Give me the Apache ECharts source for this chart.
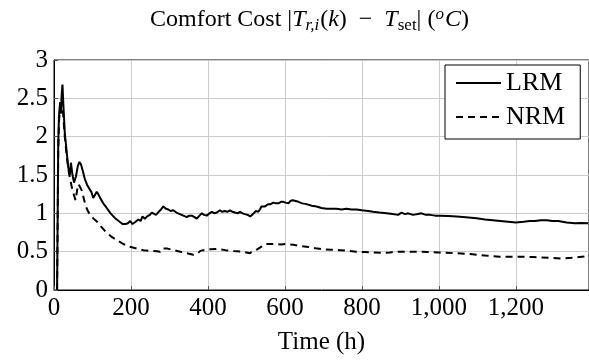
<!DOCTYPE html>
<html>
<head>
<meta charset="utf-8">
<script src="https://cdn.jsdelivr.net/npm/echarts@6/dist/echarts.min.js"></script>
<style>
  html, body { margin: 0; padding: 0; background: #fff; }
  #chart { width: 589px; height: 362px; }
</style>
</head>
<body>
<div id="chart"></div>
<script>
// LRM curve (time in h, comfort cost in °C)
const lrmHours = [8, 11, 13, 16, 18, 20, 22, 24, 28, 33, 37, 41, 44, 48, 52, 57, 62, 66, 70, 75, 80, 86, 92, 97, 102, 106, 111, 115, 120, 128, 137, 147, 158, 168, 178, 186, 192, 198, 204, 212, 219, 225, 230, 236, 242, 249, 254, 258, 265, 272, 278, 284, 291, 297, 303, 310, 318, 327, 336, 345, 351, 358, 365, 371, 378, 384, 390, 397, 404, 410, 417, 423, 431, 437, 444, 450, 457, 464, 470, 477, 483, 490, 496, 503, 510, 514, 519, 524, 531, 535, 539, 544, 548, 552, 557, 563, 570, 576, 583, 590, 596, 602, 609, 614, 620, 628, 635, 645, 656, 670, 682, 695, 708, 720, 734, 747, 760, 773, 786, 800, 816, 829, 845, 864, 880, 894, 903, 912, 920, 933, 945, 955, 966, 977, 990, 1003, 1025, 1046, 1070, 1098, 1120, 1140, 1160, 1180, 1200, 1220, 1236, 1250, 1265, 1280, 1295, 1310, 1332, 1353, 1370, 1388];
const lrmValues = [0, 1.9, 2.28, 2.45, 2.3, 2.55, 2.68, 2.45, 2.05, 1.8, 1.6, 1.5, 1.66, 1.5, 1.4, 1.48, 1.62, 1.67, 1.64, 1.55, 1.45, 1.37, 1.32, 1.28, 1.2, 1.22, 1.28, 1.25, 1.2, 1.13, 1.07, 1.0, 0.94, 0.9, 0.86, 0.86, 0.87, 0.9, 0.86, 0.89, 0.92, 0.9, 0.96, 0.93, 0.96, 0.98, 1.01, 1.03, 0.98, 1.02, 1.05, 1.09, 1.06, 1.05, 1.03, 1.04, 1.01, 0.99, 0.97, 0.95, 0.97, 0.97, 0.95, 0.93, 0.97, 1.0, 0.98, 0.97, 1.0, 1.02, 1.0, 1.01, 1.04, 1.02, 1.03, 1.02, 1.04, 1.02, 1.01, 1.0, 1.02, 1.0, 0.99, 0.98, 0.96, 0.95, 1.0, 1.03, 1.02, 1.05, 1.09, 1.1, 1.09, 1.1, 1.12, 1.12, 1.14, 1.13, 1.13, 1.15, 1.15, 1.14, 1.13, 1.16, 1.17, 1.16, 1.15, 1.13, 1.12, 1.1, 1.09, 1.07, 1.06, 1.06, 1.06, 1.05, 1.06, 1.05, 1.05, 1.04, 1.03, 1.02, 1.01, 1.0, 0.99, 0.98, 1.01, 0.99, 1.0, 0.98, 0.99, 1.0, 0.98, 0.98, 0.97, 0.97, 0.965, 0.96, 0.95, 0.935, 0.92, 0.91, 0.9, 0.89, 0.88, 0.89, 0.9, 0.9, 0.91, 0.91, 0.9, 0.9, 0.88, 0.87, 0.875, 0.87];

// NRM curve
const nrmHours = [8, 11, 13, 17, 20, 23, 28, 33, 38, 43, 48, 53, 56, 60, 64, 68, 72, 77, 82, 88, 95, 103, 112, 122, 134, 148, 163, 180, 197, 215, 232, 250, 267, 276, 281, 286, 295, 310, 328, 345, 362, 372, 380, 388, 405, 423, 445, 466, 490, 509, 517, 528, 539, 548, 560, 574, 590, 604, 622, 640, 656, 680, 700, 720, 743, 765, 786, 808, 829, 855, 873, 890, 899, 920, 942, 970, 998, 1040, 1081, 1120, 1158, 1200, 1245, 1285, 1323, 1345, 1366, 1388];
const nrmValues = [0, 1.8, 2.2, 2.45, 2.5, 2.35, 2.0, 1.75, 1.55, 1.42, 1.3, 1.22, 1.17, 1.3, 1.38, 1.39, 1.3, 1.2, 1.1, 1.03, 0.97, 0.93, 0.89, 0.83, 0.76, 0.7, 0.65, 0.6, 0.565, 0.54, 0.52, 0.51, 0.505, 0.5, 0.54, 0.555, 0.54, 0.52, 0.5, 0.48, 0.46, 0.47, 0.51, 0.52, 0.53, 0.535, 0.52, 0.51, 0.5, 0.48, 0.51, 0.53, 0.565, 0.6, 0.6, 0.6, 0.595, 0.6, 0.59, 0.575, 0.565, 0.545, 0.53, 0.525, 0.52, 0.51, 0.5, 0.495, 0.49, 0.485, 0.49, 0.5, 0.5, 0.5, 0.5, 0.495, 0.49, 0.48, 0.47, 0.45, 0.435, 0.435, 0.43, 0.42, 0.41, 0.42, 0.43, 0.44];

const xMin = 0, xMax = 1390, xStep = 200;
const yMin = 0, yMax = 3, yStep = 0.5;

const zip = (xs, ys) => xs.map((x, i) => [x, ys[i]]);
const serif = '"Liberation Serif", "DejaVu Serif", serif';

const chart = echarts.init(document.getElementById('chart'));

// title pieces (rich text, sub/superscripts shifted with padding)
const tn = { fontFamily: serif, fontSize: 24, lineHeight: 28, color: '#000' };
const ti = { ...tn, fontStyle: 'italic' };
const small = { fontFamily: serif, fontSize: 17, lineHeight: 17, color: '#000' };

const option = {
    backgroundColor: '#fff',
    animation: false,
    textStyle: { fontFamily: serif, color: '#000' },
    title: {
        left: 150,
        top: 6,
        padding: 0,
        text: '{n|Comfort Cost |}{i|T}{sub|r,i}{n|(}{i|k}{n|)\u2002−\u2002}{i|T}{subr|set}{n|| (}{sup|o}{i|C}{n|)}',
        textStyle: {
            fontFamily: serif,
            fontWeight: 'normal',
            fontSize: 24,
            color: '#000',
            rich: {
                n: tn,
                i: ti,
                sub: { ...small, fontStyle: 'italic', padding: [11, 1, 0, 0] },
                subr: { ...small, padding: [11, 0, 0, 0] },
                sup: { ...small, fontStyle: 'italic', padding: [0, 1, 10, 0] }
            }
        }
    },
    legend: {
        orient: 'vertical',
        left: 445,
        top: 65,
        padding: [5, 15, 9, 10],
        itemGap: 8,
        itemWidth: 45,
        itemHeight: 14,
        borderColor: '#000',
        borderWidth: 1,
        borderRadius: 0,
        backgroundColor: '#fff',
        itemStyle: { opacity: 0 },
        textStyle: { fontFamily: serif, fontSize: 26, color: '#000', lineHeight: 26 },
        data: ['LRM', 'NRM']
    },
    grid: {
        show: true,
        left: 54,
        top: 60,
        width: 535,
        height: 230,
        borderColor: '#000',
        borderWidth: 1,
        backgroundColor: 'transparent'
    },
    xAxis: {
        type: 'value',
        min: xMin,
        max: xMax,
        interval: xStep,
        name: 'Time (h)',
        nameLocation: 'middle',
        nameGap: 40,
        nameTextStyle: { fontFamily: serif, fontSize: 25, color: '#000' },
        axisLine: { show: true, lineStyle: { color: '#000', width: 1 } },
        axisTick: { show: true, inside: true, length: 4, lineStyle: { color: '#555' } },
        axisLabel: {
            fontFamily: serif,
            fontSize: 25,
            color: '#000',
            margin: 6,
            showMaxLabel: false,
            formatter: v => (v % xStep === 0 ? v.toLocaleString('en-US') : '')
        },
        splitLine: { show: true, lineStyle: { color: '#cccccc', width: 1 } }
    },
    yAxis: {
        type: 'value',
        min: yMin,
        max: yMax,
        interval: yStep,
        axisLine: { show: true, lineStyle: { color: '#000', width: 1 } },
        axisTick: { show: true, inside: true, length: 4, lineStyle: { color: '#555' } },
        axisLabel: { fontFamily: serif, fontSize: 25, color: '#000', margin: 6 },
        splitLine: { show: true, lineStyle: { color: '#cccccc', width: 1 } }
    },
    series: [
        {
            name: 'LRM',
            type: 'line',
            data: zip(lrmHours, lrmValues),
            symbol: 'none',
            showSymbol: false,
            lineStyle: { color: '#000', width: 2 },
            itemStyle: { color: '#000' }
        },
        {
            name: 'NRM',
            type: 'line',
            data: zip(nrmHours, nrmValues),
            symbol: 'none',
            showSymbol: false,
            lineStyle: { color: '#000', width: 2, type: [7, 5] },
            itemStyle: { color: '#000' }
        }
    ]
};

chart.setOption(option);
</script>
</body>
</html>
